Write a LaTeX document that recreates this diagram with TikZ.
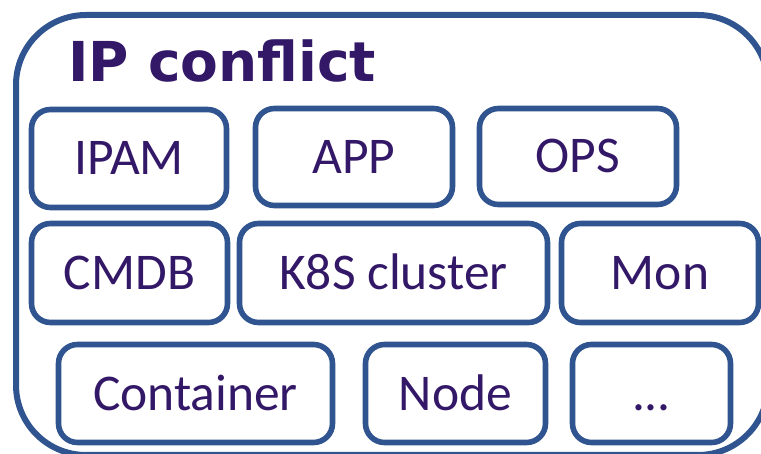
\documentclass[tikz,border=0pt]{standalone}
\usepackage{fontspec}
\setmainfont{Carlito}
\newfontfamily\titlefont{DejaVu Sans}
\definecolor{frameblue}{RGB}{47,84,143}
\definecolor{textpurple}{RGB}{51,24,103}
\begin{document}
\begin{tikzpicture}[x=1pt,y=-1pt,
  frame/.style={draw=frameblue, line width=6pt, rounded corners=70pt, inner sep=0pt},
  item/.style={draw=frameblue, line width=5.6pt, rounded corners=19pt, inner sep=0pt,
    text=textpurple, font=\fontsize{51.5}{62}\selectfont, text height=33pt, text depth=0pt,
    minimum height=#1},
  item/.default=98pt,
  title/.style={anchor=base west, inner sep=0pt, text=textpurple,
    font=\titlefont\bfseries\fontsize{55}{66}\selectfont}]
\useasboundingbox (0,0) rectangle (761,454);
\clip (0,0) rectangle (761,454);
\node[frame, minimum width=752pt, minimum height=440pt] (outer) at (392,235) {};
\node[title] (ttl) at (68,82) {IP conflict};
% row 1
\node[item, minimum width=195pt] (ipam) at (129,158.5) {IPAM};
\node[item=97pt, minimum width=197pt] (app) at (354,157) {APP};
\node[item=96pt, minimum width=197pt] (ops) at (578,156.5) {OPS};
% row 2
\node[item=99pt, minimum width=196pt] (cmdb) at (129.5,273) {CMDB};
\node[item=99pt, minimum width=308pt] (k8s) at (393.5,273) {K8S cluster};
\node[item=99pt, minimum width=197pt] (mon) at (660,273) {Mon};
% row 3
\node[item, minimum width=274pt] (cont) at (195.5,393.5) {Container};
\node[item, minimum width=180pt] (nd) at (455.5,393.5) {Node};
\node[item, minimum width=158pt] (more) at (651.5,393.5) {...};
\end{tikzpicture}
\end{document}
